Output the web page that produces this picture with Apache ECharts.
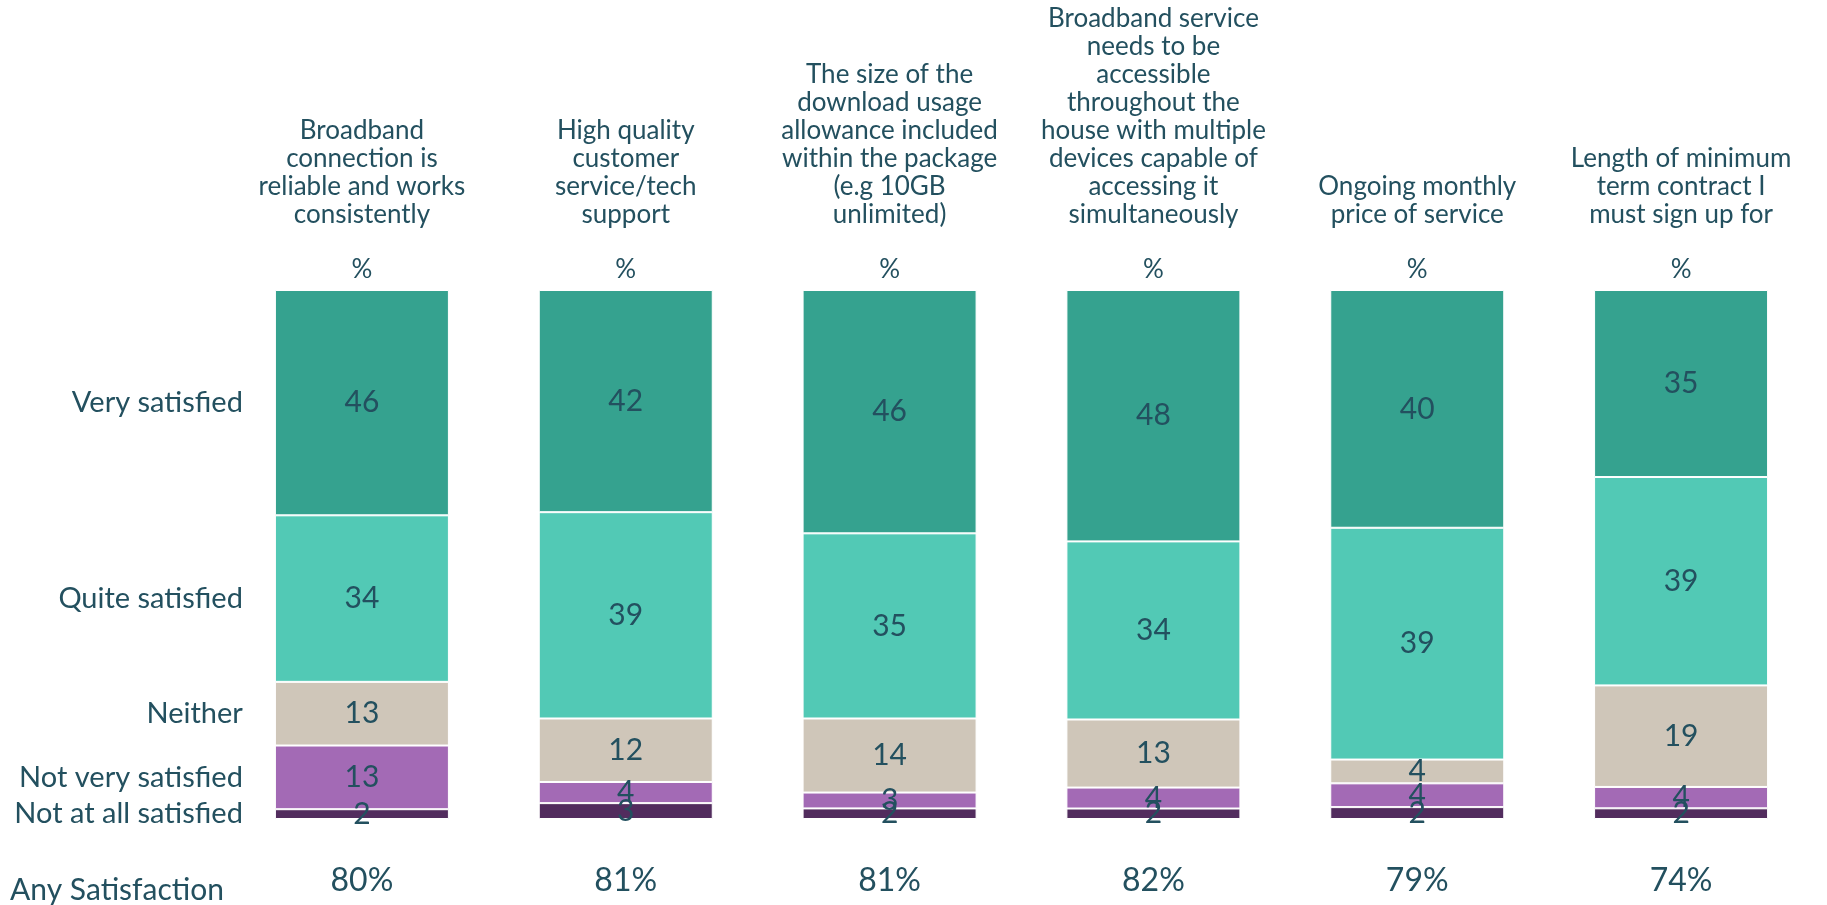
<!DOCTYPE html>
<html>
<head>
<meta charset="utf-8">
<script src="https://cdn.jsdelivr.net/npm/echarts@6/dist/echarts.min.js"></script>
<style>
  html, body { margin: 0; padding: 0; background: #ffffff; }
  #chart { width: 1827px; height: 905px; }
</style>
</head>
<body>
<div id="chart"></div>
<script>
// categories (top headings)
var topics = [
    "Broadband\nconnection is\nreliable and works\nconsistently",
    "High quality\ncustomer\nservice/tech\nsupport",
    "The size of the\ndownload usage\nallowance included\nwithin the package\n(e.g 10GB\nunlimited)",
    "Broadband service\nneeds to be\naccessible\nthroughout the\nhouse with multiple\ndevices capable of\naccessing it\nsimultaneously",
    "Ongoing monthly\nprice of service",
    "Length of minimum\nterm contract I\nmust sign up for"
];

// answer groups, bottom to top
var groups = ["Not at all satisfied", "Not very satisfied", "Neither", "Quite satisfied", "Very satisfied"];

var notAtAll = [2, 3, 2, 2, 2, 2];
var notVery = [13, 4, 3, 4, 4, 4];
var neither = [13, 12, 14, 13, 4, 19];
var quite = [34, 39, 35, 34, 39, 39];
var very = [46, 42, 46, 48, 40, 35];

var anySatisfaction = [80, 81, 81, 82, 79, 74];

var colors = ["#522C5E", "#A36AB5", "#CFC6B9", "#52C9B5", "#35A28F"];
var textColor = "#23505F";
var font = "Lato";

var raw = [notAtAll, notVery, neither, quite, very];

// each bar is drawn as share of its own total (100% stacked)
var totals = topics.map(function (t, i) {
    var s = 0;
    raw.forEach(function (arr) { s += arr[i]; });
    return s;
});
var shares = raw.map(function (arr) {
    return arr.map(function (v, i) { return v / totals[i] * 100; });
});

// centre of each group in the first bar, for the row names on the left
var below = 0;
var firstCentres = shares.map(function (arr) {
    var c = below + arr[0] / 2;
    below += arr[0];
    return c;
});

var series = groups.map(function (name, k) {
    return {
        name: name,
        type: 'bar',
        stack: 'all',
        barWidth: 174,
        data: shares[k],
        itemStyle: {
            color: colors[k],
            borderColor: '#ffffff',
            borderWidth: 1
        },
        label: {
            show: true,
            position: 'inside',
            color: textColor,
            fontFamily: font,
            fontSize: 30,
            formatter: function (p) {
                return raw[k][p.dataIndex];
            }
        },
        markPoint: {
            symbol: 'circle',
            symbolSize: 0,
            silent: true,
            label: {
                show: true,
                position: 'left',
                distance: 119,
                color: textColor,
                fontFamily: font,
                fontSize: 29,
                formatter: name
            },
            data: [{ coord: [0, firstCentres[k]] }]
        }
    };
});

var option = {
    animation: false,
    backgroundColor: '#ffffff',
    grid: {
        left: 230,
        right: 14,
        top: 290,
        bottom: 86
    },
    xAxis: [
        {
            type: 'category',
            position: 'bottom',
            data: anySatisfaction,
            axisLine: { show: false },
            axisTick: { show: false },
            axisLabel: {
                margin: 46,
                interval: 0,
                color: textColor,
                fontFamily: font,
                fontSize: 32,
                formatter: function (v) { return v + '%'; }
            },
            name: 'Any Satisfaction',
            nameLocation: 'start',
            nameGap: 6,
            nameTextStyle: {
                color: textColor,
                fontFamily: font,
                fontSize: 30,
                verticalAlign: 'top',
                padding: [56, 0, 0, 0]
            }
        },
        {
            type: 'category',
            position: 'top',
            data: topics,
            axisLine: { show: false },
            axisTick: { show: false },
            axisLabel: {
                margin: 7,
                interval: 0,
                color: textColor,
                fontFamily: font,
                fontSize: 26,
                lineHeight: 28,
                align: 'center',
                formatter: function (v) { return v + '\n\n{p|%}'; },
                rich: {
                    p: {
                        color: textColor,
                        fontFamily: font,
                        fontSize: 26,
                        lineHeight: 26
                    }
                }
            }
        }
    ],
    yAxis: {
        type: 'value',
        min: 0,
        max: 100,
        show: false,
        splitLine: { show: false }
    },
    series: series
};

var myChart = echarts.init(document.getElementById('chart'));
myChart.setOption(option);
</script>
</body>
</html>
